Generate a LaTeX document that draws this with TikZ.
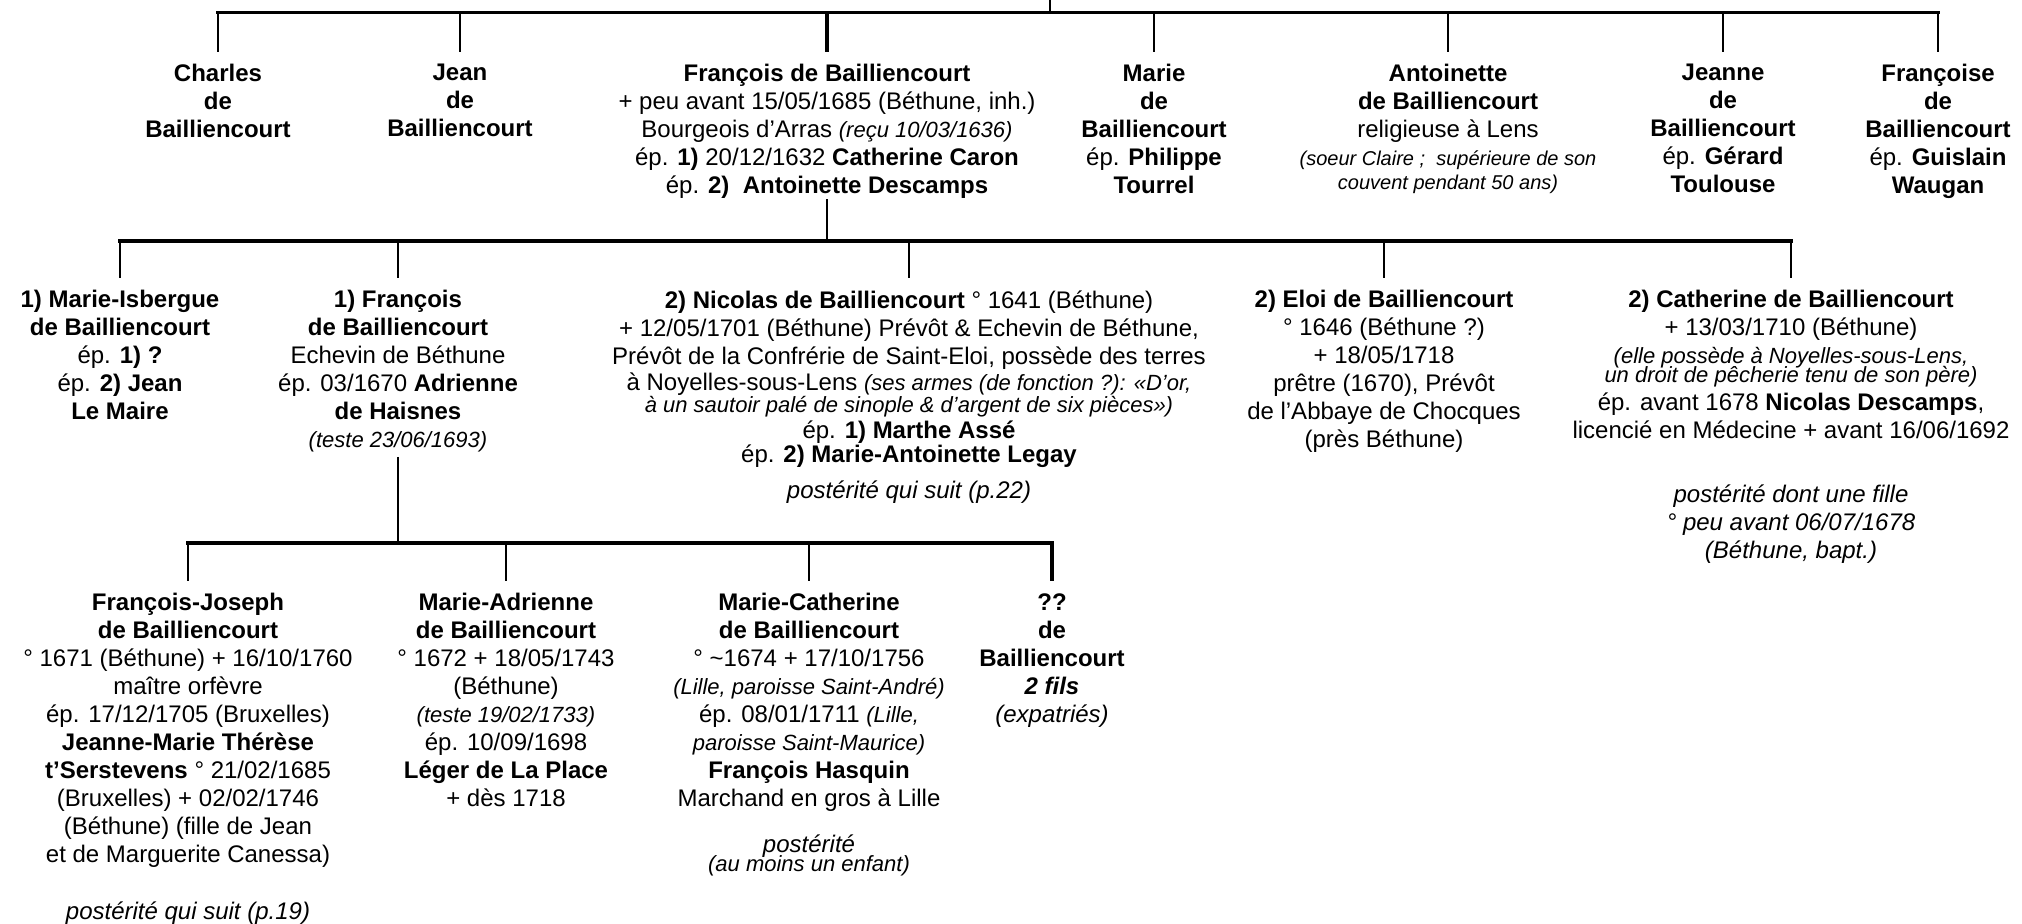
\documentclass[tikz,border=0pt]{standalone}
\usepackage{fontspec}
\setmainfont{Liberation Sans}
\newcommand{\note}[1]{{\fontsize{11}{13}\selectfont\itshape #1}}
\newcommand{\smallnote}[1]{{\fontsize{10}{12}\selectfont\itshape #1}}
\begin{document}
\begin{tikzpicture}[x=0.5pt, y=-0.5pt,
  every node/.style={font=\fontsize{12}{14}\selectfont},
  person/.style={align=center, anchor=north, inner xsep=0pt, inner ysep=6pt},
  namebf/.style={person, font=\fontsize{12}{14}\selectfont\bfseries},
  bar/.style={line width=1.8pt, line cap=rect},
  drop/.style={line width=1.2pt},
  thickdrop/.style={line width=2.4pt}]
  \useasboundingbox (0,0) rectangle (2022,923);

  \coordinate (root) at (1050,0);
  \coordinate (bar1) at (1050,12.5);
  \coordinate (bar2) at (0,241);
  \coordinate (bar3) at (0,543);

  \node[namebf] (a1) at (218,52) {Charles\\de\\Bailliencourt};
  \node[namebf] (a2) at (460,52) {Jean\\de\\Bailliencourt};
  \node[person] (a3) at (827,52) {\textbf{François de Bailliencourt}\\
    + peu avant 15/05/1685 (Béthune, inh.)\\
    Bourgeois d’Arras \note{(reçu 10/03/1636)}\\
    ép. \textbf{1)} 20/12/1632 \textbf{Catherine Caron}\\
    ép. \textbf{2)\ \ Antoinette Descamps}};
  \node[person] (a4) at (1154,52) {\textbf{Marie}\\ \textbf{de}\\ \textbf{Bailliencourt}\\
    ép. \textbf{Philippe}\\ \textbf{Tourrel}};
  \node[person] (a5) at (1448,52) {\textbf{Antoinette}\\ \textbf{de Bailliencourt}\\
    religieuse à Lens\\
    \smallnote{(soeur Claire ;\ \ supérieure de son}\\[-2pt]
    \smallnote{couvent pendant 50 ans)}};
  \node[person] (a6) at (1723,52) {\textbf{Jeanne}\\ \textbf{de}\\ \textbf{Bailliencourt}\\
    ép. \textbf{Gérard}\\ \textbf{Toulouse}};
  \node[person] (a7) at (1938,52) {\textbf{Françoise}\\ \textbf{de}\\ \textbf{Bailliencourt}\\
    ép. \textbf{Guislain}\\ \textbf{Waugan}};

  \node[person] (b1) at (120,278) {\textbf{1) Marie-Isbergue}\\ \textbf{de Bailliencourt}\\
    ép. \textbf{1) ?}\\ ép. \textbf{2) Jean}\\ \textbf{Le Maire}};
  \node[person] (b2) at (398,278) {\textbf{1) François}\\ \textbf{de Bailliencourt}\\
    Echevin de Béthune\\ ép. 03/1670 \textbf{Adrienne}\\ \textbf{de Haisnes}\\
    \note{(teste 23/06/1693)}};
  \node[person] (b3) at (909,278) {\textbf{2) Nicolas de Bailliencourt} ° 1641 (Béthune)\\
    + 12/05/1701 (Béthune) Prévôt \& Echevin de Béthune,\\
    Prévôt de la Confrérie de Saint-Eloi, possède des terres\\[-1pt]
    à Noyelles-sous-Lens \note{(ses armes (de fonction ?): «D’or,}\\[-3pt]
    \note{à un sautoir palé de sinople \& d’argent de six pièces»)}\\[-1pt]
    ép. \textbf{1) Marthe Assé}\\[-2pt]
    ép. \textbf{2) Marie-Antoinette Legay}\\[4pt]
    \textit{postérité qui suit (p.22)}};
  \node[person] (b4) at (1384,278) {\textbf{2) Eloi de Bailliencourt}\\
    ° 1646 (Béthune ?)\\ + 18/05/1718\\ prêtre (1670), Prévôt\\
    de l’Abbaye de Chocques\\ (près Béthune)};
  \node[person] (b5) at (1791,278) {\textbf{2) Catherine de Bailliencourt}\\
    + 13/03/1710 (Béthune)\\
    \note{(elle possède à Noyelles-sous-Lens,}\\[-4.5pt]
    \note{un droit de pêcherie tenu de son père)}\\
    ép. avant 1678 \textbf{Nicolas Descamps},\\
    licencié en Médecine + avant 16/06/1692\\[18pt]
    \textit{postérité dont une fille}\\ \textit{° peu avant 06/07/1678}\\
    \textit{(Béthune, bapt.)}};

  \node[person] (c1) at (188,581) {\textbf{François-Joseph}\\ \textbf{de Bailliencourt}\\
    ° 1671 (Béthune) + 16/10/1760\\ maître orfèvre\\ ép. 17/12/1705 (Bruxelles)\\
    \textbf{Jeanne-Marie Thérèse}\\ \textbf{t’Serstevens} ° 21/02/1685\\
    (Bruxelles) + 02/02/1746\\ (Béthune) (fille de Jean\\
    et de Marguerite Canessa)\\[14.5pt]
    \textit{postérité qui suit (p.19)}};
  \node[person] (c2) at (506,581) {\textbf{Marie-Adrienne}\\ \textbf{de Bailliencourt}\\
    ° 1672 + 18/05/1743\\ (Béthune)\\ \note{(teste 19/02/1733)}\\
    ép. 10/09/1698\\ \textbf{Léger de La Place}\\ + dès 1718};
  \node[person] (c3) at (809,581) {\textbf{Marie-Catherine}\\ \textbf{de Bailliencourt}\\
    ° \textasciitilde1674 + 17/10/1756\\ \note{(Lille, paroisse Saint-André)}\\
    ép. 08/01/1711 \note{(Lille,}\\ \note{paroisse Saint-Maurice)}\\
    \textbf{François Hasquin}\\ Marchand en gros à Lille\\[9pt]
    \textit{postérité}\\[-4.5pt] \note{(au moins un enfant)}};
  \node[person] (c4) at (1052,581) {\textbf{??}\\ \textbf{de}\\ \textbf{Bailliencourt}\\
    \textbf{\textit{2 fils}}\\ \textit{(expatriés)}};

  \draw[drop] (root) -- (bar1);
  \draw[bar] (a1.north |- bar1) -- (a7.north |- bar1);
  \draw[drop] (a1.north |- bar1) -- (a1.north);
  \draw[drop] (a2.north |- bar1) -- (a2.north);
  \draw[thickdrop] (a3.north |- bar1) -- (a3.north);
  \draw[drop] (a4.north |- bar1) -- (a4.north);
  \draw[drop] (a5.north |- bar1) -- (a5.north);
  \draw[drop] (a6.north |- bar1) -- (a6.north);
  \draw[drop] (a7.north |- bar1) -- (a7.north);

  \draw[drop] ([yshift=6pt]a3.south) -- (a3.south |- bar2);
  \draw[bar] (b1.north |- bar2) -- (b5.north |- bar2);
  \draw[drop] (b1.north |- bar2) -- (b1.north);
  \draw[drop] (b2.north |- bar2) -- (b2.north);
  \draw[drop] (b3.north |- bar2) -- (b3.north);
  \draw[drop] (b4.north |- bar2) -- (b4.north);
  \draw[drop] (b5.north |- bar2) -- (b5.north);

  \draw[drop] ([yshift=4pt]b2.south) -- (b2.south |- bar3);
  \draw[bar] (c1.north |- bar3) -- (c4.north |- bar3);
  \draw[drop] (c1.north |- bar3) -- (c1.north);
  \draw[drop] (c2.north |- bar3) -- (c2.north);
  \draw[drop] (c3.north |- bar3) -- (c3.north);
  \draw[thickdrop] (c4.north |- bar3) -- (c4.north);
\end{tikzpicture}
\end{document}
